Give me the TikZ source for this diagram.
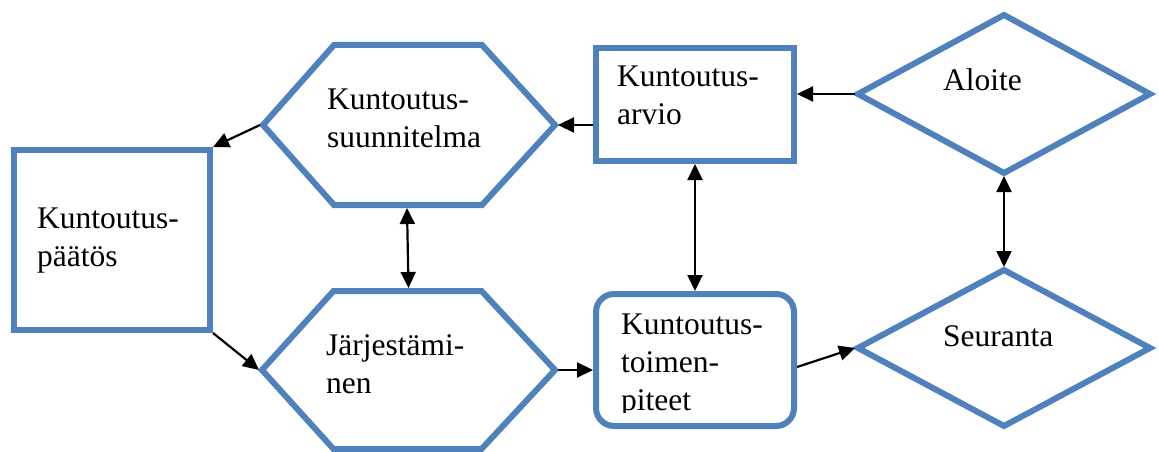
\documentclass[tikz,border=0pt]{standalone}
\usepackage{fontspec}
\setmainfont{Liberation Serif}
\usetikzlibrary{arrows.meta,calc}
\definecolor{boxblue}{HTML}{4F81BD}
\tikzset{
  frame/.style={draw=none,rectangle,inner sep=0pt,outer sep=3pt},
  outline/.style={draw=boxblue,line width=6pt,line join=miter},
  lbl/.style={anchor=base west,inner sep=0pt,align=left,
    font=\fontsize{31.5}{38}\selectfont},
  tip/.tip={Triangle[length=16pt,width=15pt]},
  conn/.style={line width=2.2pt,-tip},
  conn2/.style={line width=2.2pt,tip-tip},
}
\begin{document}
\begin{tikzpicture}[x=1pt,y=-1pt]
\useasboundingbox (0,0) rectangle (1159,452);

% invisible frames that carry names and anchors
\node[frame,minimum width=196pt,minimum height=180pt] (paatos) at (112,240) {};
\node[frame,minimum width=292pt,minimum height=160pt] (suunn) at (409,125) {};
\node[frame,minimum width=293pt,minimum height=158pt] (jarj) at (408.5,370) {};
\node[frame,minimum width=198pt,minimum height=113pt] (arvio) at (695,104.5) {};
\node[frame,minimum width=198pt,minimum height=132pt] (toimen) at (695,360) {};
\node[frame,minimum width=292pt,minimum height=158pt] (aloite) at (1004,94) {};
\node[frame,minimum width=292pt,minimum height=156pt] (seur) at (1004,348) {};

% rectangles
\draw[outline] (112-98,240-90) rectangle (112+98,240+90);
\draw[outline] (695-99,104.5-56.5) rectangle (695+99,104.5+56.5);
\draw[outline,rounded corners=18pt] (695-99,360-66) rectangle (695+99,360+66);

% hexagons
\draw[outline] (409-146,125) -- (409-75,45) -- (409+73,45) -- (409+146,125)
  -- (409+73,205) -- (409-75,205) -- cycle;
\draw[outline] (408.5-146.5,370) -- (408.5-75,291) -- (408.5+73,291) -- (408.5+146.5,370)
  -- (408.5+73,449) -- (408.5-75,449) -- cycle;

% diamonds
\draw[outline] (1004,15) -- (1004+146,94) -- (1004,173) -- (1004-146,94) -- cycle;
\draw[outline] (1004,270) -- (1004+146,348) -- (1004,426) -- (1004-146,348) -- cycle;

% labels (anchored at the baseline of the last line)
\node[lbl] (tpaatos) at (37,266) {Kuntoutus-\\päätös};
\node[lbl] (tsuunn) at (327,147) {Kuntoutus-\\suunnitelma};
\node[lbl] (tjarj) at (326,393) {Järjestämi-\\nen};
\node[lbl] (tarvio) at (617,124) {Kuntoutus-\\arvio};
\begin{scope}
  \clip (600,298) rectangle (790,412);
  \node[lbl] (ttoimen) at (621,410) {Kuntoutus-\\toimen-\\piteet};
\end{scope}
\node[lbl] (taloite) at (943,90) {Aloite};
\node[lbl] (tseur) at (943,346) {Seuranta};

% connectors
\draw[conn] (aloite.west) -- (arvio.east |- aloite.west);
\draw[conn] (arvio.west |- suunn.east) -- (suunn.east);
\draw[conn] (suunn.west) -- (paatos.north east);
\draw[conn] (paatos.south east) -- (jarj.west);
\draw[conn] (jarj.east) -- (toimen.west |- jarj.east);
\draw[conn] ([yshift=-7pt]toimen.east) -- (seur.west);
\draw[conn2] ([xshift=-2pt]suunn.south) -- (jarj.north);
\draw[conn2] (arvio.south) -- (toimen.north);
\draw[conn2] (aloite.south) -- (seur.north);
\end{tikzpicture}
\end{document}
